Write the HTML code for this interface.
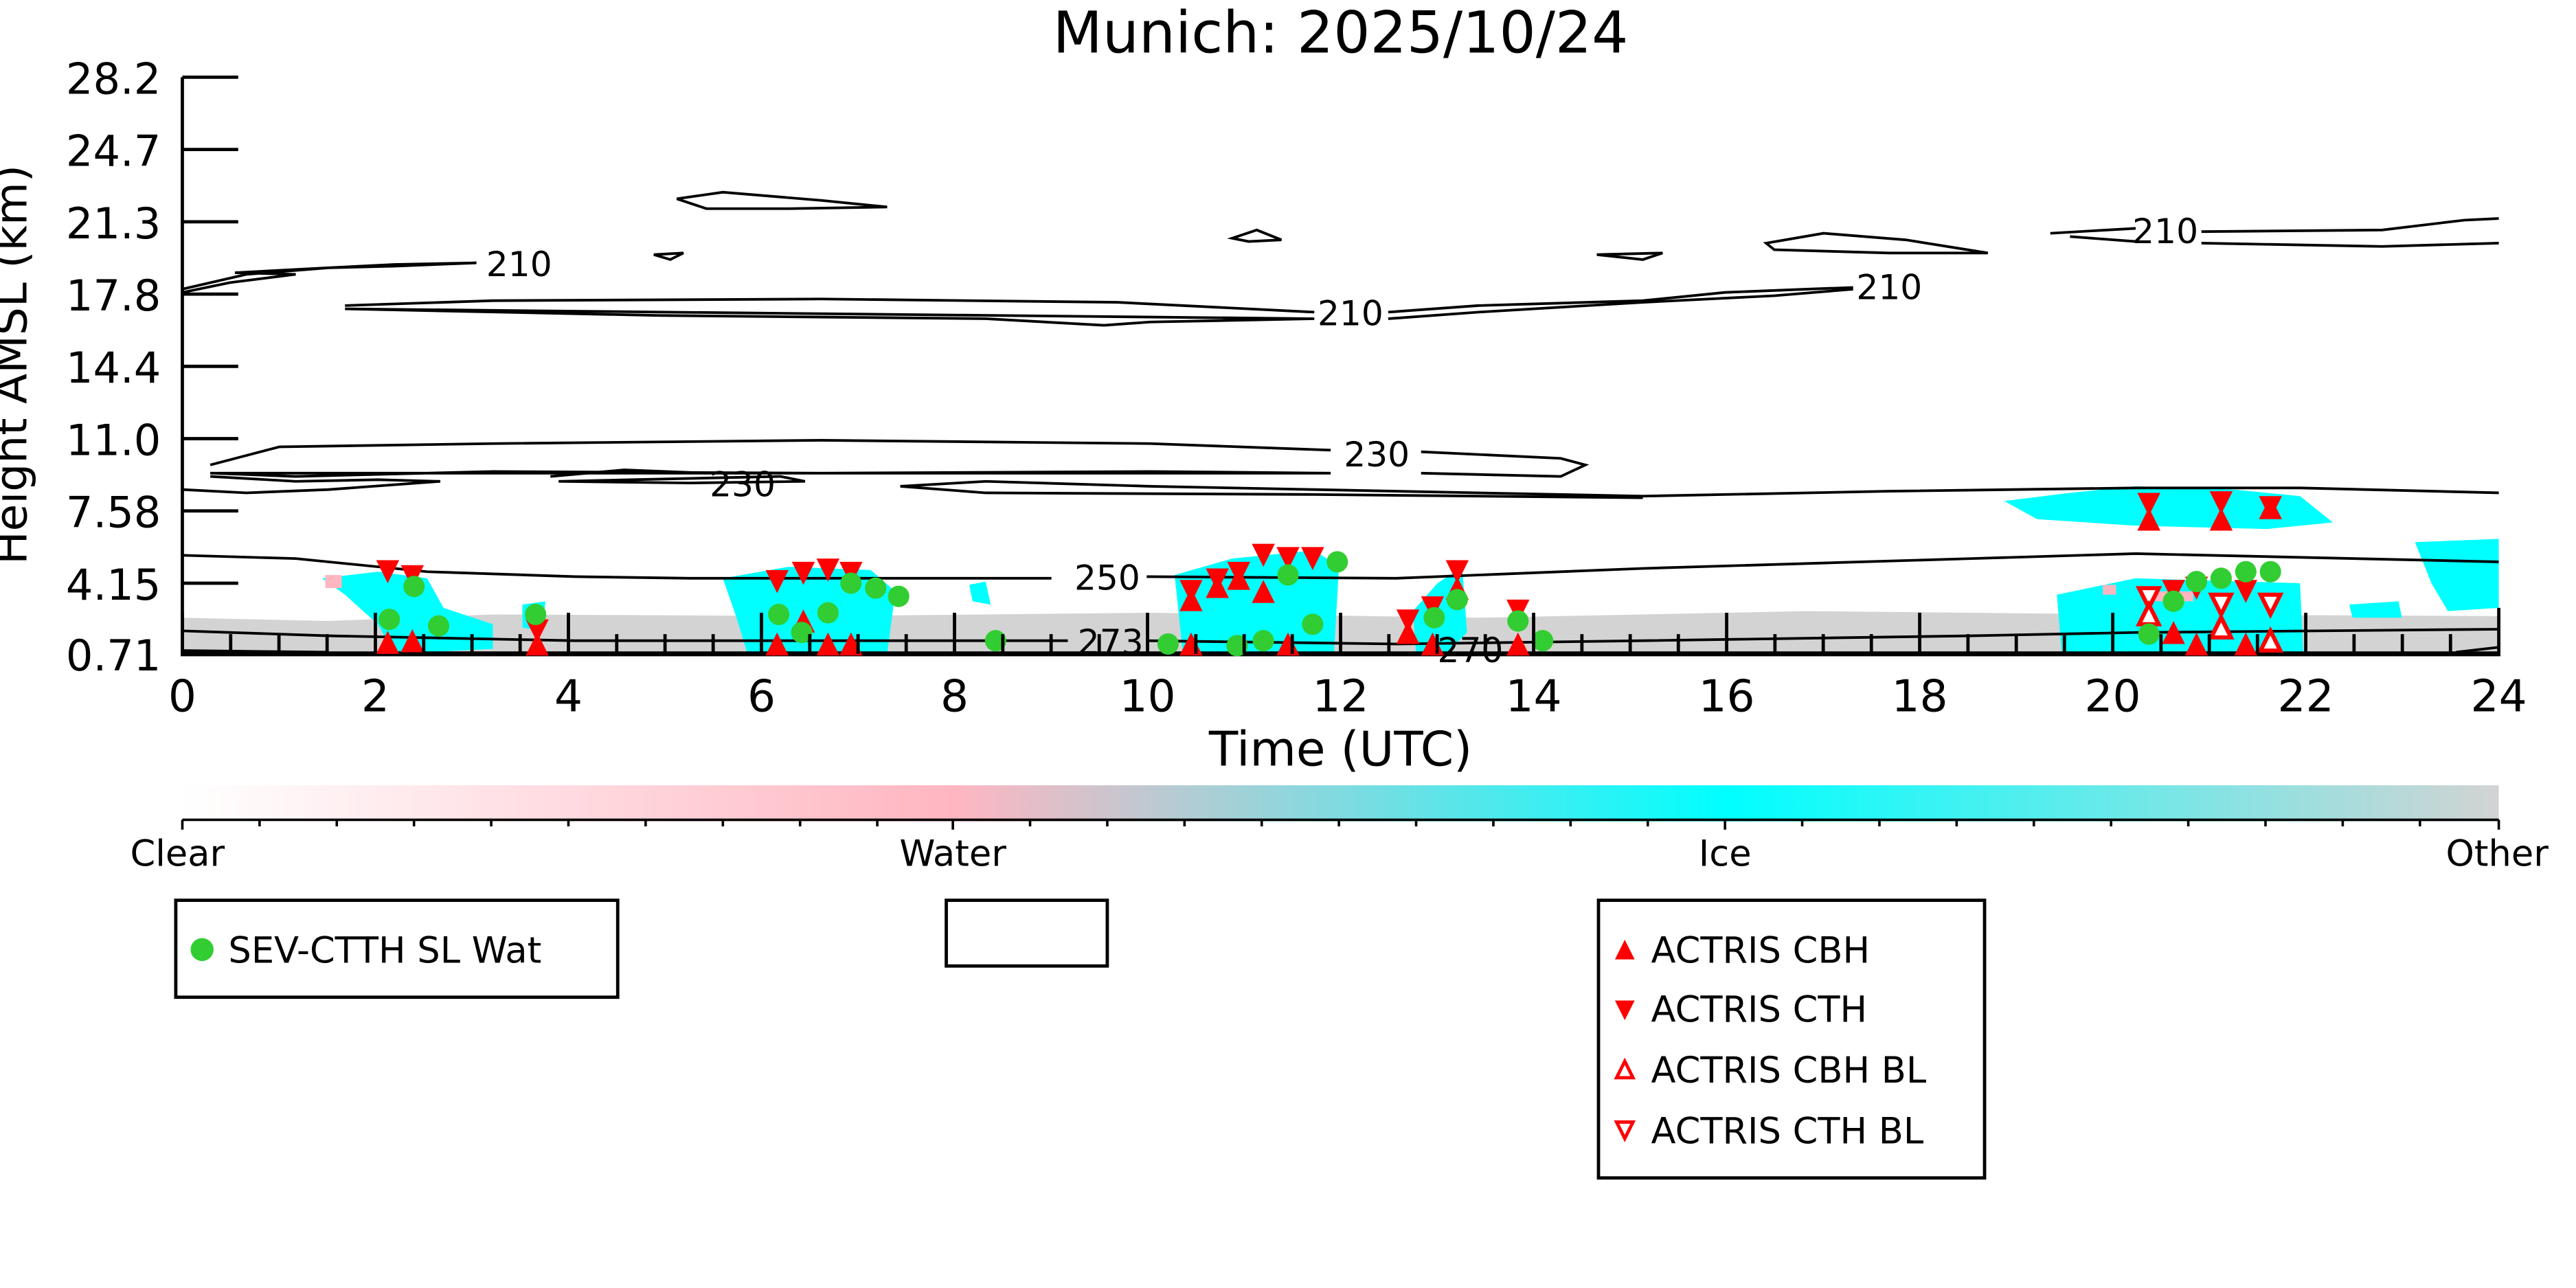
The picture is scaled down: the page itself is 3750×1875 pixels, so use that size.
<!DOCTYPE html>
<html><head><meta charset="utf-8"><style>html,body{margin:0;padding:0;background:#fff}svg{display:block}</style></head>
<body>
<svg width="3750" height="1875" viewBox="0 0 1568 784" xmlns="http://www.w3.org/2000/svg" font-family="DejaVu Sans, Liberation Sans, sans-serif">
<defs>
<linearGradient id="cb" x1="0" x2="1" y1="0" y2="0">
<stop offset="0" stop-color="#ffffff"/><stop offset="0.333" stop-color="#ffb6c1"/><stop offset="0.667" stop-color="#00ffff"/><stop offset="1" stop-color="#d3d3d3"/>
</linearGradient>
<g id="dn"><polygon points="-7,-7 7,-7 0,7" fill="#f00"/></g>
<g id="up"><polygon points="-7,7 7,7 0,-7" fill="#f00"/></g>
</defs>
<text x="816" y="32" font-size="35" text-anchor="middle">Munich: 2025/10/24</text>

<path d="M111,376 L200,378 L300,374 L500,375 L700,373 L900,376 L1100,372 L1300,374 L1521,375 L1521,398 L111,398Z" fill="#d3d3d3"/>
<g fill="#00ffff">
<path d="M196,352 L230,348 L260,352 L270,370 L300,380 L300,395 L240,398 L230,380 L210,362Z" />
<path d="M440,352 L480,345 L530,347 L545,360 L540,398 L455,398 L448,375Z"/>
<path d="M590,356 L600,354 L603,368 L592,366Z"/>
<path d="M715,350 L750,340 L800,335 L815,345 L812,398 L720,398Z"/>
<path d="M860,372 L875,355 L890,345 L893,385 L880,398 L862,398Z"/>
<path d="M1252,362 L1300,352 L1400,355 L1402,398 L1255,398Z"/>
<path d="M1220,305 L1260,300 L1300,296 L1360,298 L1400,302 L1420,318 L1380,322 L1300,320 L1240,316Z"/>
<path d="M1470,330 L1521,328 L1521,370 L1490,372 L1480,355Z"/>
<path d="M1430,368 L1460,366 L1462,376 L1432,376Z"/>
<path d="M318,368 L332,366 L330,384 L318,382Z"/>
</g>
<g fill="#ffb6c1"><rect x="198" y="350" width="10" height="8"/><rect x="1305" y="360" width="30" height="6"/><rect x="1280" y="356" width="8" height="6"/></g>

<g fill="none" stroke="#000" stroke-width="1.6">
<path d="M111,176 L150,167 L200,163 L240,162 L290,160 L240,161 L200,163 L143,166 L180,167 L140,172 L111,178"/>
<path d="M412,121 L440,117 L500,122 L540,126 L480,127 L430,127 Z"/>
<path d="M398,155 L416,154 L408,158Z"/>
<path d="M750,145 L765,140 L780,146 L760,147Z"/>
<path d="M972,155 L1012,154 L1000,158Z"/>
<path d="M210,186 L300,183 L500,182 L680,184 L800,190 M845,190 L900,186 L1000,183 L1050,178 L1100,176 L1128,175 M1128,176 L1080,180 L1000,184 L900,190 L845,194 M800,194 L700,196 L672,198 L600,194 L400,192 L210,188Z"/>
<path d="M1075,148 L1110,142 L1160,146 L1210,154 L1150,154 L1080,152Z"/>
<path d="M1248,142 L1300,139 M1340,141 L1450,140 L1500,134 L1521,133 M1521,148 L1450,150 L1340,148 M1300,147 L1260,144 Z"/>
<path d="M128,283 L170,272 L300,270 L500,268 L700,270 L810,274 M865,275 L950,279 L965,283 L950,290 L865,288 M810,288 L700,287 L500,288 L300,287 L180,290 L128,288Z"/>
<path d="M335,290 L380,286 L430,288 M475,290 L490,293 L420,294 L340,293Z"/>
<path d="M111,298 L150,300 L200,298 L268,293 L230,292 L180,293 L128,290"/>
<path d="M548,296 L600,293 L700,296 L800,298 L1000,302 L1150,299 L1300,297 L1400,297 L1521,300 M548,296 L600,300 L800,301 L1000,303"/>
<path d="M111,338 L180,340 L260,348 L350,351 L420,352 L640,352 M698,351 L850,352 L1000,346 L1200,340 L1300,337 L1521,342"/>
<path d="M111,384 L200,387 L350,390 L650,390 M698,390 L850,392 L1000,390 L1200,387 L1300,385 L1521,383"/>
<path d="M111,396 L200,397 M1495,397 L1521,394"/>
</g>
<g font-size="21" text-anchor="middle">
<text x="316" y="168">210</text><text x="822" y="198">210</text><text x="1150" y="182">210</text><text x="1318" y="148">210</text>
<text x="838" y="284">230</text><text x="452" y="302">230</text><text x="674" y="359">250</text><text x="676" y="398">273</text><text x="895" y="403">270</text>
</g>

<g stroke="#000" stroke-width="2">
<line x1="111" y1="47" x2="111" y2="398"/>
<line x1="110" y1="398" x2="1522" y2="398" stroke-width="3"/>
<line x1="111" y1="47" x2="145" y2="47"/><line x1="111" y1="91" x2="145" y2="91"/><line x1="111" y1="135" x2="145" y2="135"/><line x1="111" y1="179" x2="145" y2="179"/><line x1="111" y1="223" x2="145" y2="223"/><line x1="111" y1="267" x2="145" y2="267"/><line x1="111" y1="311" x2="145" y2="311"/><line x1="111" y1="355" x2="145" y2="355"/>
</g>
<g font-size="26" text-anchor="end">
<text x="98" y="57">28.2</text><text x="98" y="101">24.7</text><text x="98" y="145">21.3</text><text x="98" y="189">17.8</text><text x="98" y="233">14.4</text><text x="98" y="277">11.0</text><text x="98" y="321">7.58</text><text x="98" y="365">4.15</text><text x="98" y="408">0.71</text>
</g>
<g font-size="27" text-anchor="middle">
<text x="111" y="433">0</text><text x="228.5" y="433">2</text><text x="346" y="433">4</text><text x="463.5" y="433">6</text><text x="581" y="433">8</text><text x="698.5" y="433">10</text><text x="816" y="433">12</text><text x="933.5" y="433">14</text><text x="1051" y="433">16</text><text x="1168.5" y="433">18</text><text x="1286" y="433">20</text><text x="1403.5" y="433">22</text><text x="1521" y="433">24</text>
</g>
<text x="816" y="466" font-size="29" text-anchor="middle">Time (UTC)</text>
<text transform="translate(16,222) rotate(-90)" font-size="27" text-anchor="middle">Height AMSL (km)</text>

<g>
<use href="#dn" x="236" y="348"/><use href="#dn" x="251" y="351"/><use href="#up" x="236" y="391"/><use href="#up" x="251" y="390"/><use href="#dn" x="327" y="384"/><use href="#up" x="327" y="392"/>
<use href="#dn" x="473" y="354"/><use href="#dn" x="489" y="349"/><use href="#dn" x="504" y="347"/><use href="#dn" x="518" y="349"/><use href="#up" x="473" y="392"/><use href="#up" x="489" y="378"/><use href="#up" x="504" y="392"/><use href="#up" x="518" y="392"/>
<use href="#dn" x="725" y="360"/><use href="#dn" x="741" y="353"/><use href="#dn" x="754" y="349"/><use href="#dn" x="769" y="338"/><use href="#dn" x="784" y="340"/><use href="#dn" x="799" y="340"/>
<use href="#up" x="725" y="365"/><use href="#up" x="741" y="357"/><use href="#up" x="754" y="352"/><use href="#up" x="769" y="360"/><use href="#up" x="725" y="392"/><use href="#up" x="784" y="392"/>
<use href="#dn" x="887" y="348"/><use href="#up" x="887" y="358"/><use href="#dn" x="857" y="378"/><use href="#up" x="857" y="385"/><use href="#dn" x="872" y="370"/><use href="#up" x="872" y="392"/><use href="#dn" x="924" y="372"/><use href="#up" x="924" y="392"/>
<use href="#dn" x="1308" y="307"/><use href="#up" x="1308" y="316"/><use href="#dn" x="1352" y="306"/><use href="#up" x="1352" y="316"/><use href="#dn" x="1382" y="309"/><use href="#up" x="1382" y="309"/>
<use href="#dn" x="1323" y="360"/><use href="#dn" x="1337" y="358"/><use href="#dn" x="1367" y="360"/><use href="#up" x="1323" y="385"/><use href="#up" x="1337" y="392"/><use href="#up" x="1367" y="392"/><use href="#up" x="1352" y="380"/>
</g>
<g fill="#fff" stroke="#f00" stroke-width="2.5">
<polygon points="1302,358 1314,358 1308,370"/><polygon points="1346,362 1358,362 1352,374"/><polygon points="1376,362 1388,362 1382,374"/>
<polygon points="1302,380 1314,380 1308,368"/><polygon points="1346,388 1358,388 1352,376"/><polygon points="1376,396 1388,396 1382,384"/>
</g>
<g fill="#32cd32">
<circle cx="252" cy="357" r="6.5"/><circle cx="237" cy="377" r="6.5"/><circle cx="267" cy="381" r="6.5"/><circle cx="326" cy="374" r="6.5"/>
<circle cx="474" cy="374" r="6.5"/><circle cx="504" cy="373" r="6.5"/><circle cx="488" cy="385" r="6.5"/><circle cx="518" cy="355" r="6.5"/><circle cx="533" cy="358" r="6.5"/><circle cx="547" cy="363" r="6.5"/><circle cx="606" cy="390" r="6.5"/>
<circle cx="711" cy="392" r="6.5"/><circle cx="753" cy="393" r="6.5"/><circle cx="769" cy="390" r="6.5"/><circle cx="784" cy="350" r="6.5"/><circle cx="799" cy="380" r="6.5"/><circle cx="814" cy="342" r="6.5"/>
<circle cx="873" cy="376" r="6.5"/><circle cx="887" cy="365" r="6.5"/><circle cx="924" cy="378" r="6.5"/><circle cx="939" cy="390" r="6.5"/>
<circle cx="1308" cy="386" r="6.5"/><circle cx="1323" cy="366" r="6.5"/><circle cx="1337" cy="354" r="6.5"/><circle cx="1352" cy="352" r="6.5"/><circle cx="1367" cy="348" r="6.5"/><circle cx="1382" cy="348" r="6.5"/>
</g>
<g stroke="#000" stroke-width="2">
<path d="M111,373V398M228.5,373V398M346,373V398M463.5,373V398M581,373V398M698.5,373V398M816,373V398M933.5,373V398M1051,373V398M1168.5,373V398M1286,373V398M1403.5,373V398M1521,370V398"/>
<path d="M140.4,386V398M169.8,386V398M199.1,386V398M257.9,386V398M287.3,386V398M316.6,386V398M375.4,386V398M404.8,386V398M434.1,386V398M492.9,386V398M522.3,386V398M551.6,386V398M610.4,386V398M639.8,386V398M669.1,386V398M727.9,386V398M757.3,386V398M786.6,386V398M845.4,386V398M874.8,386V398M904.1,386V398M962.9,386V398M992.3,386V398M1021.6,386V398M1080.4,386V398M1109.8,386V398M1139.1,386V398M1197.9,386V398M1227.3,386V398M1256.6,386V398M1315.4,386V398M1344.8,386V398M1374.1,386V398M1432.9,386V398M1462.3,386V398M1491.6,386V398"/>
</g>

<rect x="111" y="478" width="1410" height="22" fill="url(#cb)"/>
<g stroke="#000" stroke-width="1.5">
<line x1="111" y1="499" x2="1521" y2="499"/>
<path d="M111,499v6M158,499v4M205,499v4M252,499v4M299,499v4M346,499v4M393,499v4M440,499v4M487,499v4M534,499v4M580,499v6M627,499v4M674,499v4M721,499v4M768,499v4M815,499v4M862,499v4M909,499v4M956,499v4M1003,499v4M1050,499v6M1097,499v4M1144,499v4M1191,499v4M1238,499v4M1285,499v4M1332,499v4M1379,499v4M1426,499v4M1473,499v4M1521,499v6"/>
</g>
<g font-size="22" text-anchor="middle">
<text x="108" y="527">Clear</text><text x="580" y="527">Water</text><text x="1050" y="527">Ice</text><text x="1520" y="527">Other</text>
</g>

<g fill="none" stroke="#000" stroke-width="2">
<rect x="107" y="548" width="269" height="59"/><rect x="576" y="548" width="98" height="40"/><rect x="973" y="548" width="235" height="169"/>
</g>
<circle cx="123" cy="578" r="7" fill="#32cd32"/>
<text x="139" y="586" font-size="22">SEV-CTTH SL Wat</text>
<polygon points="983,584 995,584 989,572" fill="#f00"/>
<polygon points="983,609 995,609 989,621" fill="#f00"/>
<polygon points="984,656 994,656 989,646" fill="#fff" stroke="#f00" stroke-width="2"/>
<polygon points="984,683 994,683 989,693" fill="#fff" stroke="#f00" stroke-width="2"/>
<g font-size="22"><text x="1005" y="586">ACTRIS CBH</text><text x="1005" y="622">ACTRIS CTH</text><text x="1005" y="659">ACTRIS CBH BL</text><text x="1005" y="696">ACTRIS CTH BL</text></g>
</svg>
</body></html>
